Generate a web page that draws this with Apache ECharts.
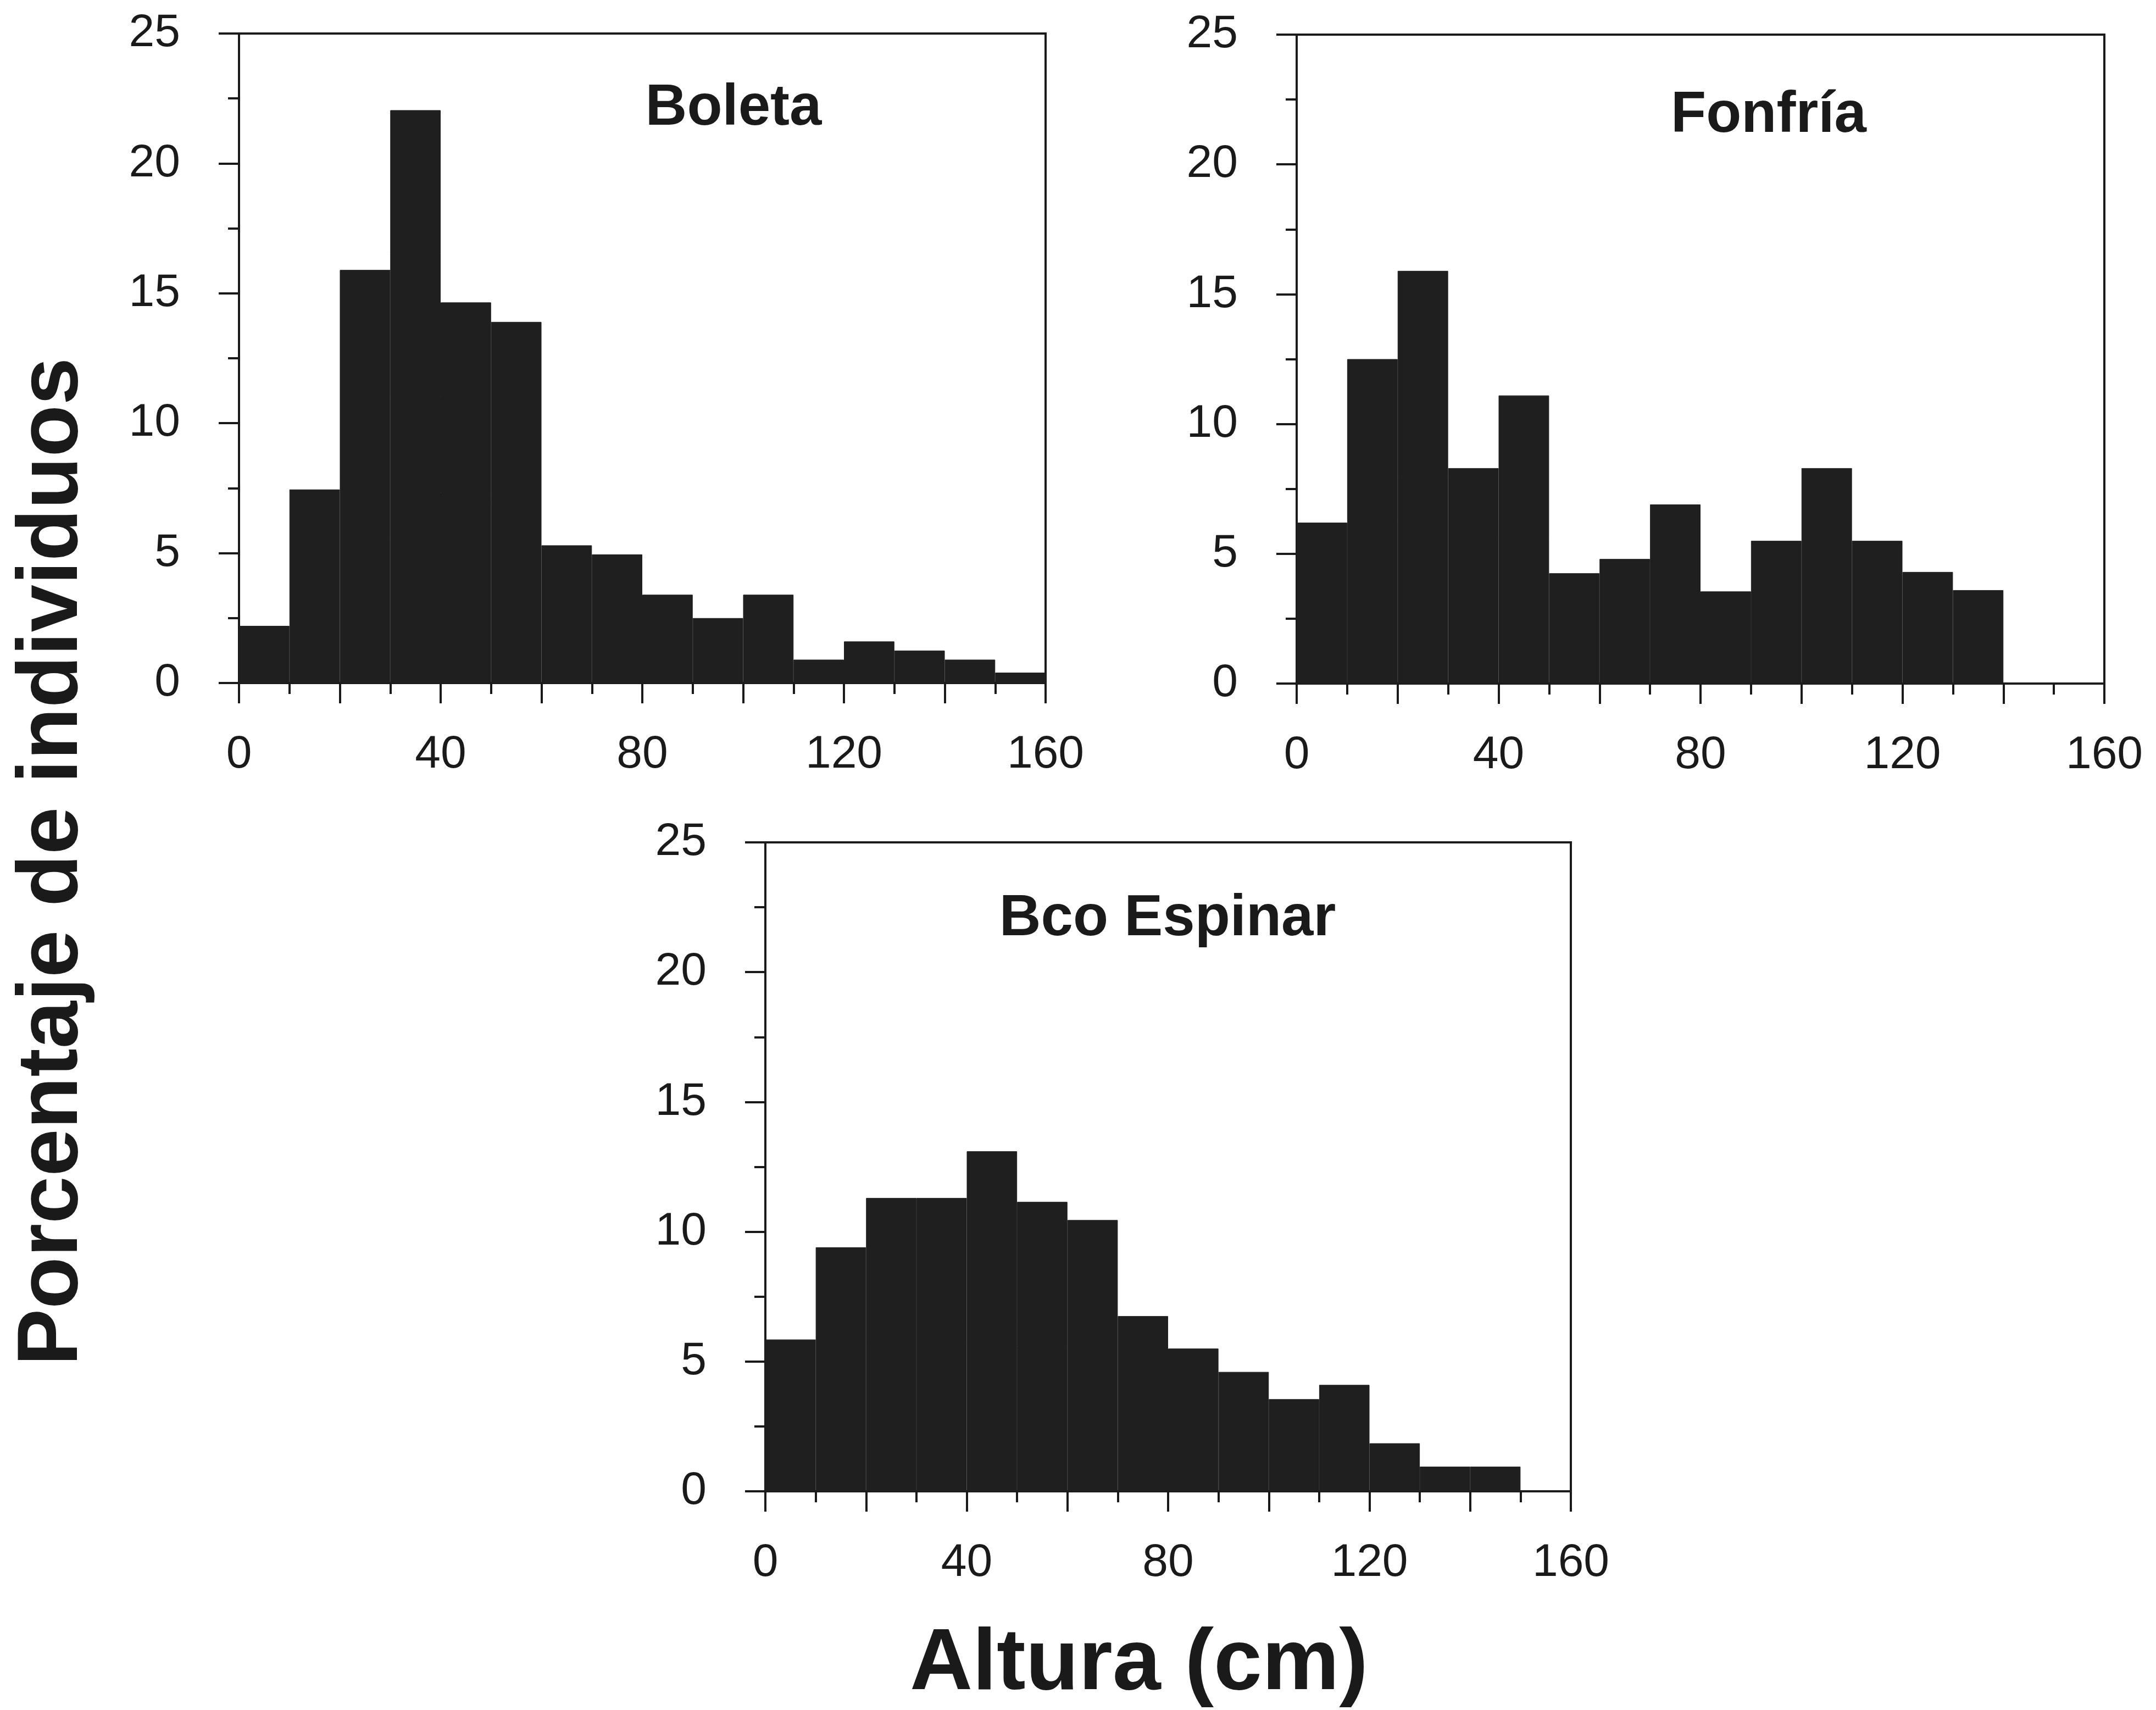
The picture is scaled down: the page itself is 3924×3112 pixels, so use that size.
<!DOCTYPE html>
<html>
<head>
<meta charset="utf-8">
<script src="https://cdn.jsdelivr.net/npm/echarts@6/dist/echarts.min.js"></script>
<style>
  html, body { margin: 0; padding: 0; background: #ffffff; }
  #chart { width: 3924px; height: 3112px; }
</style>
</head>
<body>
<div id="chart"></div>
<script>
// ---- Data (percent of individuals per 10-cm height class) ----
const bins = ['0-10','10-20','20-30','30-40','40-50','50-60','60-70','70-80',
              '80-90','90-100','100-110','110-120','120-130','130-140','140-150','150-160'];
const boleta  = [2.2, 7.45, 15.9, 22.05, 14.65, 13.9, 5.3, 4.95, 3.4, 2.5, 3.4, 0.9, 1.6, 1.25, 0.9, 0.4];
const fonfria = [6.2, 12.5, 15.9, 8.3, 11.1, 4.25, 4.8, 6.9, 3.55, 5.5, 8.3, 5.5, 4.3, 3.6, 0, 0];
const espinar = [5.85, 9.4, 11.3, 11.3, 13.1, 11.15, 10.45, 6.75, 5.5, 4.6, 3.55, 4.1, 1.85, 0.95, 0.95, 0];
const panelNames = ['Boleta', 'Fonfría', 'Bco Espinar'];
const xTickLabels = [0, 40, 80, 120, 160];
const yTickLabels = [0, 5, 10, 15, 20, 25];
const yTitle = 'Porcentaje de individuos';
const xTitle = 'Altura (cm)';

// ---- Layout ----
const FONT = "'Liberation Sans', Arial, Helvetica, sans-serif";
const INK = '#1a1a1a';
const BAR = '#1f1f1f';
const grids = [
  { left: 435,  top: 61,   width: 1468, height: 1182 },
  { left: 2360, top: 63,   width: 1470, height: 1181 },
  { left: 1393, top: 1533, width: 1466, height: 1181 }
];
const titlePos = [[1335, 198], [3219, 211], [2125, 1673]];
const seriesData = [boleta, fonfria, espinar];

const option = {
  animation: false,
  backgroundColor: '#ffffff',
  grid: grids.map(g => Object.assign({ show: true, borderColor: INK, borderWidth: 4, backgroundColor: 'transparent', containLabel: false }, g)),
  xAxis: [],
  yAxis: [],
  series: [],
  graphic: []
};

for (let i = 0; i < 3; i++) {
  // visible value axis for ticks/labels
  option.xAxis.push({
    type: 'value', gridIndex: i, min: 0, max: 160, interval: 20, position: 'bottom',
    axisLine: { show: true, onZero: false, lineStyle: { color: INK, width: 4 } },
    axisTick: { show: true, inside: false, length: 37, lineStyle: { color: INK, width: 4 } },
    minorTick: { show: true, splitNumber: 2, length: 20, lineStyle: { color: INK, width: 4 } },
    splitLine: { show: false },
    axisLabel: {
      show: true, margin: 89, fontSize: 84, color: INK, fontFamily: FONT,
      formatter: v => (xTickLabels.indexOf(v) >= 0 ? String(v) : '')
    }
  });
  // hidden category axis for the histogram bars
  option.xAxis.push({
    type: 'category', gridIndex: i, data: bins, position: 'bottom', show: false, boundaryGap: true
  });
  option.yAxis.push({
    type: 'value', gridIndex: i, min: 0, max: 25, interval: 5,
    axisLine: { show: true, onZero: false, lineStyle: { color: INK, width: 4 } },
    axisTick: { show: true, inside: false, length: 37, lineStyle: { color: INK, width: 4 } },
    minorTick: { show: true, splitNumber: 2, length: 20, lineStyle: { color: INK, width: 4 } },
    splitLine: { show: false },
    axisLabel: {
      show: true, margin: 107, fontSize: 84, color: INK, fontFamily: FONT,
      padding: [16, 0, 0, 0],
      formatter: v => (yTickLabels.indexOf(v) >= 0 ? String(v) : '')
    }
  });
  option.series.push({
    type: 'bar', name: panelNames[i], xAxisIndex: i * 2 + 1, yAxisIndex: i,
    data: seriesData[i], barCategoryGap: '0%', barGap: '0%',
    itemStyle: { color: BAR, borderColor: BAR, borderWidth: 1 },
    z: 1
  });
  option.graphic.push({
    type: 'text', x: titlePos[i][0], y: titlePos[i][1], z: 100,
    style: { text: panelNames[i], fill: INK, font: 'bold 105px ' + FONT, textAlign: 'center', textVerticalAlign: 'middle' }
  });
}

option.graphic.push({
  type: 'text', x: 97, y: 1568, rotation: Math.PI / 2, z: 100,
  style: { text: yTitle, fill: INK, font: 'bold 155px ' + FONT, textAlign: 'center', textVerticalAlign: 'middle' }
});
option.graphic.push({
  type: 'text', x: 2073, y: 3030, z: 100,
  style: { text: xTitle, fill: INK, font: 'bold 158px ' + FONT, textAlign: 'center', textVerticalAlign: 'middle' }
});

const chart = echarts.init(document.getElementById('chart'), null, { renderer: 'canvas', width: 3924, height: 3112 });
chart.setOption(option);
</script>
</body>
</html>
